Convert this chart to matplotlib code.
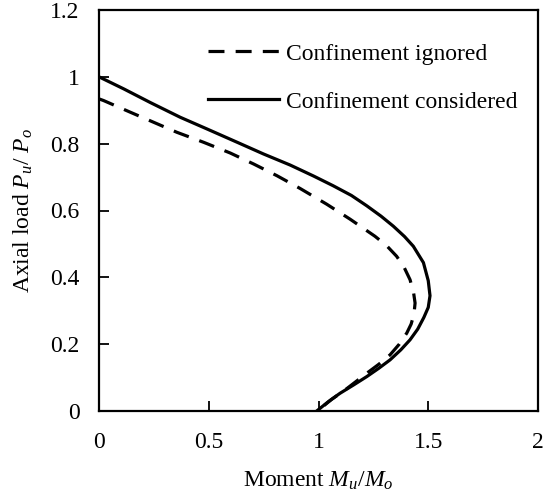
import matplotlib
matplotlib.use("Agg")
import matplotlib.pyplot as plt

# Interaction curve, confinement ignored (moment ratio, axial load ratio)
m_ignored = [0.0, 0.021, 0.143, 0.249, 0.355, 0.477, 0.598, 0.705, 0.811, 0.916, 1.037,
             1.144, 1.257, 1.31, 1.356, 1.39, 1.417, 1.433, 1.44, 1.435, 1.422, 1.402,
             1.368, 1.326, 1.275, 1.22, 1.121, 1.06, 0.995]
p_ignored = [0.934, 0.929, 0.894, 0.864, 0.834, 0.804, 0.772, 0.739, 0.704, 0.666, 0.619,
             0.574, 0.523, 0.495, 0.463, 0.43, 0.393, 0.355, 0.323, 0.29, 0.26, 0.233,
             0.2, 0.168, 0.14, 0.113, 0.063, 0.035, 0.0]

# Interaction curve, confinement considered
m_considered = [0.0, 0.1125, 0.234, 0.370, 0.492, 0.630, 0.750, 0.871, 0.978, 1.067, 1.150,
                1.220, 1.285, 1.341, 1.392, 1.432, 1.478, 1.500, 1.508, 1.500, 1.480, 1.452,
                1.417, 1.375, 1.326, 1.275, 1.22, 1.16, 1.098, 1.045, 0.992]
p_considered = [1.0, 0.964, 0.923, 0.879, 0.844, 0.804, 0.769, 0.736, 0.703, 0.674, 0.645,
                0.614, 0.583, 0.553, 0.522, 0.493, 0.444, 0.390, 0.345, 0.31, 0.28, 0.245,
                0.213, 0.183, 0.153, 0.128, 0.103, 0.078, 0.053, 0.028, 0.0]

x_ticks = [0, 0.5, 1, 1.5, 2]
x_tick_labels = ["0", "0.5", "1", "1.5", "2"]
y_ticks = [0, 0.2, 0.4, 0.6, 0.8, 1.0, 1.2]
y_tick_labels = ["0", "0.2", "0.4", "0.6", "0.8", "1", "1.2"]

plt.rcParams["font.family"] = ["Liberation Serif", "DejaVu Serif"]
plt.rcParams["mathtext.fontset"] = "custom"
plt.rcParams["mathtext.rm"] = "Liberation Serif"
plt.rcParams["mathtext.it"] = "Liberation Serif:italic"

fs = 17
fig = plt.figure(figsize=(5.45, 4.95), dpi=100)
ax = fig.add_axes([99 / 545, 1 - 411 / 495, (538 - 99) / 545, (411 - 10) / 495])

ax.plot(m_ignored, p_ignored, color="black", lw=2.3, dashes=(5, 3.5),
        solid_joinstyle="round", dash_joinstyle="round",
        label="Confinement ignored")
ax.plot(m_considered, p_considered, color="black", lw=2.3,
        solid_joinstyle="round", label="Confinement considered")

ax.set_xlim(0, 2)
ax.set_ylim(0, 1.2)
ax.set_xticks(x_ticks)
ax.set_xticklabels(x_tick_labels)
ax.set_yticks(y_ticks)
ax.set_yticklabels(y_tick_labels)
ax.tick_params(axis="x", direction="in", length=7, width=1.3, labelsize=fs, pad=15)
ax.tick_params(axis="y", direction="in", length=7, width=1.3, labelsize=fs, pad=14)
for s in ax.spines.values():
    s.set_linewidth(1.6)

ax.set_xlabel(r"Moment $M_u$/$M_o$", fontsize=fs, labelpad=12)
ax.set_ylabel(r"Axial load $P_u$/ $P_o$", fontsize=fs, labelpad=11)

ax.legend(loc="upper left", bbox_to_anchor=(208 / 545, 1 - 43 / 495),
          bbox_transform=fig.transFigure, frameon=False, fontsize=fs,
          handlelength=3.0, handletextpad=0.3, labelspacing=1.12,
          borderpad=0, borderaxespad=0)

fig.savefig("out.png", dpi=100)
